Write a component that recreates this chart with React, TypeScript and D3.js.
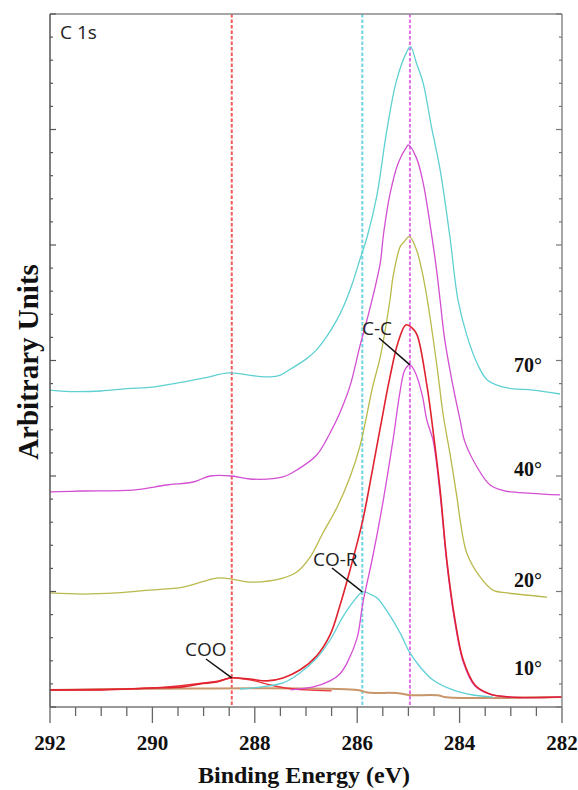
import React from 'react';
import * as d3 from 'd3';

const W = 578;
const H = 790;
const margin = { top: 14, right: 16, bottom: 83, left: 50 };

// binding energy ticks (eV)
const xTickLabels = [292, 290, 288, 286, 284, 282];

// 70° spectrum
const e70 = [292.0, 291.5, 291.0, 290.5, 290.0, 289.5, 289.0, 288.5, 288.0, 287.7, 287.5, 287.3, 287.0, 286.8, 286.6, 286.4, 286.27, 286.1, 285.95, 285.8, 285.62, 285.42, 285.23, 285.03, 284.96, 284.84, 284.71, 284.55, 284.38, 284.19, 284.03, 283.86, 283.66, 283.46, 283.07, 282.57, 282.04];
const i70 = [13.72, 13.65, 13.68, 13.78, 13.85, 14.03, 14.24, 14.46, 14.33, 14.29, 14.37, 14.63, 15.06, 15.45, 16.02, 16.75, 17.33, 18.3, 19.35, 20.4, 22.09, 24.98, 27.14, 28.37, 28.59, 27.86, 27.0, 25.12, 23.25, 20.36, 17.6, 16.1, 14.89, 14.16, 13.81, 13.72, 13.55];

// 40° spectrum
const e40 = [292.0, 291.36, 290.38, 289.72, 289.2, 288.87, 288.45, 288.1, 287.45, 287.18, 286.79, 286.53, 286.34, 286.14, 285.95, 285.75, 285.55, 285.49, 285.36, 285.2, 285.03, 285.0, 284.84, 284.71, 284.58, 284.45, 284.38, 284.29, 284.13, 283.99, 283.9, 283.66, 283.4, 283.1, 282.6, 282.04];
const i40 = [9.31, 9.35, 9.39, 9.61, 9.74, 10.0, 10.0, 9.87, 9.96, 10.26, 10.91, 11.86, 12.73, 13.9, 15.6, 17.27, 19.22, 20.4, 22.2, 23.54, 24.26, 24.33, 23.75, 22.67, 20.94, 18.92, 17.6, 15.9, 13.9, 12.42, 11.5, 10.39, 9.6, 9.35, 9.25, 9.18];

// 20° spectrum
const e20 = [292.0, 291.36, 290.7, 290.05, 289.4, 288.74, 288.45, 288.1, 287.45, 287.18, 286.92, 286.67, 286.39, 286.14, 285.95, 285.69, 285.55, 285.36, 285.3, 285.16, 285.1, 284.98, 284.84, 284.74, 284.64, 284.44, 284.32, 284.19, 284.05, 283.99, 283.86, 283.6, 283.35, 283.07, 282.29];
const i20 = [4.94, 4.89, 4.94, 5.06, 5.19, 5.58, 5.54, 5.41, 5.58, 5.84, 6.49, 7.53, 8.66, 9.96, 11.26, 13.94, 15.15, 17.62, 18.63, 19.93, 20.1, 20.36, 19.78, 18.92, 17.76, 14.72, 12.64, 11.0, 9.05, 8.1, 6.67, 5.63, 5.06, 4.94, 4.76];

// 10° spectrum (envelope of the fit)
const e10 = [292.0, 291.0, 290.05, 289.4, 289.07, 288.74, 288.48, 288.1, 287.76, 287.45, 287.12, 286.79, 286.53, 286.34, 286.14, 285.89, 285.71, 285.55, 285.36, 285.2, 285.05, 284.93, 284.83, 284.64, 284.52, 284.38, 284.25, 284.09, 283.93, 283.7, 283.41, 283.02, 282.0];
const i10 = [0.74, 0.74, 0.82, 0.87, 1.0, 1.08, 1.26, 1.21, 1.13, 1.26, 1.6, 2.22, 3.12, 4.37, 5.93, 8.1, 10.17, 12.08, 14.29, 15.8, 16.54, 16.41, 16.1, 13.94, 11.99, 9.39, 6.36, 3.77, 2.03, 0.95, 0.56, 0.43, 0.43];

// C-C component
const eCC = [287.3, 286.86, 286.53, 286.34, 286.2, 286.0, 285.89, 285.69, 285.5, 285.3, 285.16, 285.07, 284.97, 284.87, 284.73, 284.64, 284.52, 284.38, 284.25, 284.09, 283.93, 283.7, 283.41, 283.02, 282.04];
const iCC = [0.74, 0.87, 1.13, 1.43, 1.9, 3.0, 4.5, 6.58, 8.83, 11.56, 13.7, 14.59, 14.81, 14.5, 13.5, 12.42, 11.56, 9.18, 6.23, 3.64, 1.95, 0.91, 0.56, 0.43, 0.43];

// CO-R component
const eCOR = [288.29, 287.45, 287.12, 286.79, 286.53, 286.28, 286.08, 285.89, 285.75, 285.61, 285.42, 285.16, 284.97, 284.77, 284.52, 284.13, 283.74, 283.35];
const iCOR = [0.78, 1.04, 1.47, 2.12, 2.9, 3.9, 4.55, 4.98, 4.89, 4.72, 4.16, 3.2, 2.34, 1.73, 1.17, 0.74, 0.52, 0.43];

// COO component
const eCOO = [292.0, 290.5, 290.0, 289.5, 289.0, 288.7, 288.45, 288.2, 288.0, 287.7, 287.4, 287.0, 286.5];
const iCOO = [0.74, 0.78, 0.82, 0.91, 1.04, 1.13, 1.26, 1.21, 1.13, 0.95, 0.82, 0.74, 0.7];

// background
const eBg = [292.0, 286.0, 285.8, 285.2, 285.0, 284.4, 284.3, 282.0];
const iBg = [0.74, 0.74, 0.63, 0.6, 0.52, 0.5, 0.43, 0.43];

// peak positions (eV)
const peakCOO = 288.45;
const peakCOR = 285.9;
const peakCC = 284.97;

const angleLabels = ['70°', '40°', '20°', '10°'];
const angleLevels = [14.5, 10.0, 5.2, 1.4];

const serif = '"Liberation Serif", "Times New Roman", serif';
const sans = '"Open Sans", "Noto Sans", sans-serif';

const zip = (xs: number[], ys: number[]) => xs.map((x, i) => [x, ys[i]] as [number, number]);

export default function App() {
  const x = d3.scaleLinear().domain([292, 282]).range([margin.left, W - margin.right]);
  const y = d3.scaleLinear().domain([0, 30]).range([H - margin.bottom, margin.top]);

  const line = d3
    .line<[number, number]>()
    .x((d) => x(d[0]))
    .y((d) => y(d[1]))
    .curve(d3.curveCatmullRom.alpha(0.5));

  const path = (xs: number[], ys: number[]) => line(zip(xs, ys)) || '';

  const x0 = margin.left;
  const x1 = W - margin.right;
  const y0 = H - margin.bottom;
  const y1 = margin.top;

  const minorX = d3.range(282, 292.01, 0.5);
  const yTicks = d3.range(0, 31);

  return (
    <svg
      width={W}
      height={H}
      style={{ position: 'absolute', left: 0, top: 0, background: '#fff' }}
    >
      {/* peak markers */}
      {[
        { e: peakCOO, c: '#f25a5a' },
        { e: peakCOR, c: '#6fd3e2' },
        { e: peakCC, c: '#e26ee6' },
      ].map((m, i) => (
        <line
          key={i}
          x1={x(m.e)}
          x2={x(m.e)}
          y1={y1}
          y2={y0}
          stroke={m.c}
          strokeWidth={2}
          strokeDasharray="3.5,2"
        />
      ))}

      {/* spectra */}
      <path d={path(e70, i70)} fill="none" stroke="#5fd0d2" strokeWidth={1.3} />
      <path d={path(e40, i40)} fill="none" stroke="#d24fd2" strokeWidth={1.3} />
      <path d={path(e20, i20)} fill="none" stroke="#b9b94c" strokeWidth={1.3} />

      {/* 10° fit */}
      <path d={path(eBg, iBg)} fill="none" stroke="#c9956b" strokeWidth={2} />
      <path d={path(eCOO, iCOO)} fill="none" stroke="#e8333a" strokeWidth={1.4} />
      <path d={path(eCOR, iCOR)} fill="none" stroke="#5fd0d6" strokeWidth={1.3} />
      <path d={path(eCC, iCC)} fill="none" stroke="#d64fd6" strokeWidth={1.3} />
      <path d={path(e10, i10)} fill="none" stroke="#e0222e" strokeWidth={1.6} />

      {/* frame */}
      <line x1={x0} x2={x1} y1={y1} y2={y1} stroke="#8a8a8a" strokeWidth={1.5} />
      <line x1={x1} x2={x1} y1={y1} y2={y0} stroke="#8a8a8a" strokeWidth={1.5} />
      <line x1={x0} x2={x0} y1={y1} y2={y0} stroke="#555" strokeWidth={1.5} />
      <line x1={x0} x2={x1} y1={y0} y2={y0} stroke="#777" strokeWidth={1.5} />

      {/* y ticks, both sides, inward */}
      {yTicks.map((t) => {
        const len = t % 5 === 0 ? 6 : 3;
        return (
          <g key={t}>
            <line x1={x0} x2={x0 + len} y1={y(t)} y2={y(t)} stroke="#555" strokeWidth={1.2} />
            <line x1={x1} x2={x1 - len} y1={y(t)} y2={y(t)} stroke="#777" strokeWidth={1.2} />
          </g>
        );
      })}

      {/* x ticks, outward */}
      {minorX.map((t) => {
        const major = Math.abs(t - Math.round(t)) < 1e-6 && Math.round(t) % 2 === 0;
        return (
          <line
            key={t}
            x1={x(t)}
            x2={x(t)}
            y1={y0}
            y2={y0 + (major ? 16 : 9)}
            stroke="#666"
            strokeWidth={1.3}
          />
        );
      })}
      {xTickLabels.map((t) => (
        <text
          key={t}
          x={x(t)}
          y={750}
          textAnchor="middle"
          fontFamily={serif}
          fontWeight="bold"
          fontSize={21}
          fill="#111"
        >
          {t}
        </text>
      ))}

      {/* axis titles */}
      <text
        x={304}
        y={783}
        textAnchor="middle"
        fontFamily={serif}
        fontWeight="bold"
        fontSize={24}
        fill="#111"
      >
        Binding Energy (eV)
      </text>
      <text
        transform={`translate(38,${362}) rotate(-90)`}
        textAnchor="middle"
        fontFamily={serif}
        fontWeight="bold"
        fontSize={29}
        fill="#111"
      >
        Arbitrary Units
      </text>

      {/* labels */}
      <text x={60} y={39} fontFamily={sans} fontSize={19} fill="#222">
        C 1s
      </text>
      {angleLabels.map((a, i) => (
        <text
          key={a}
          x={514}
          y={y(angleLevels[i])}
          fontFamily={serif}
          fontWeight="bold"
          fontSize={20}
          fill="#111"
        >
          {a}
        </text>
      ))}

      {/* peak annotations */}
      <text x={362} y={335} fontFamily={sans} fontSize={19} fill="#222">
        C-C
      </text>
      <line x1={379} y1={338} x2={x(peakCC)} y2={y(14.81)} stroke="#111" strokeWidth={1.5} />
      <text x={313} y={566} fontFamily={sans} fontSize={19} fill="#222">
        CO-R
      </text>
      <line x1={332} y1={568} x2={x(peakCOR)} y2={y(4.98)} stroke="#111" strokeWidth={1.5} />
      <text x={185} y={656} fontFamily={sans} fontSize={19} fill="#222">
        COO
      </text>
      <line x1={206} y1={659} x2={x(peakCOO)} y2={y(1.26)} stroke="#111" strokeWidth={1.5} />
    </svg>
  );
}
